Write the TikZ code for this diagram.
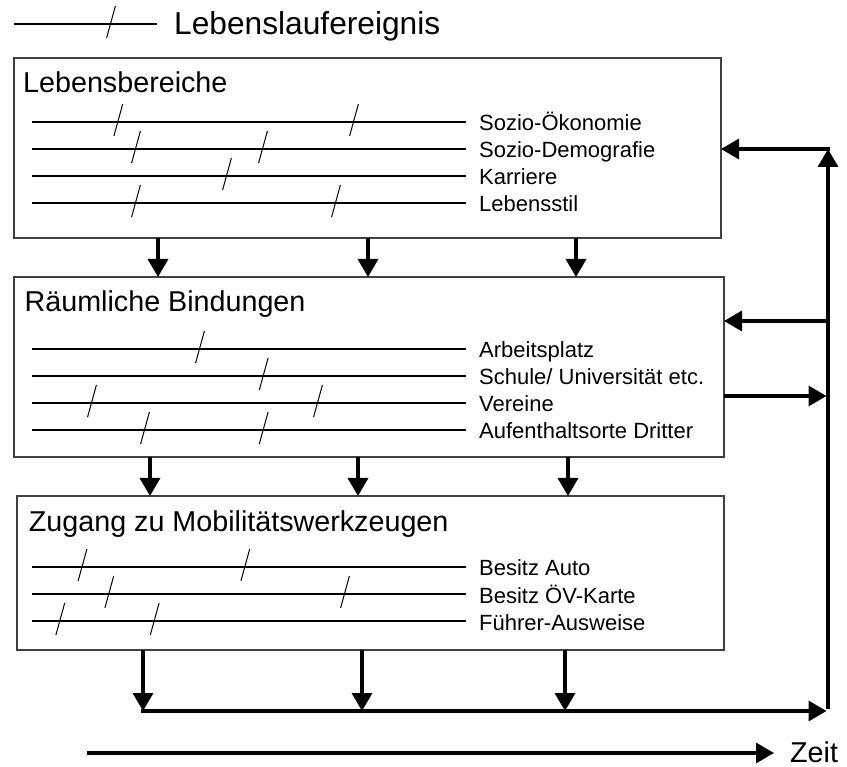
\documentclass[tikz,border=0pt]{standalone}
\usepackage{fontspec}
\setmainfont{Liberation Sans}
\usetikzlibrary{arrows.meta}
\tikzset{
  box/.style={draw=black!75, line width=1.2pt, rectangle, inner sep=0pt, outer sep=0pt, anchor=north west},
  title/.style={font=\fontsize{28.7}{34}\selectfont, inner sep=0pt, anchor=base west},
  item/.style={font=\fontsize{22}{26}\selectfont, inner sep=0pt, anchor=base west},
  evline/.style={line width=1.2pt},
  tick/.style={line width=1pt},
  arr/.style={line width=3.5pt, -{Triangle[length=18pt,width=20pt]}},
}
\newcommand\lifeline[4]{%
  \coordinate (#1s) at (32,#2);
  \coordinate (#1e) at (466,#2);
  \node[item] (#1) at (479,#2+9) {#3};
  \draw[evline] (#1s) -- (#1e);
  \foreach \t in {#4} {\draw[tick] (\t+4.4,#2-18) -- (\t-4.4,#2+14);}
}
\begin{document}
\begin{tikzpicture}[x=1pt,y=-1pt]
\useasboundingbox (0,0) rectangle (847,767);
% legend
\coordinate (lgs) at (14,24);
\coordinate (lge) at (157,24);
\draw[evline] (lgs) -- (lge);
\draw[tick] (115.4,6) -- (106.6,38);
\node[font=\fontsize{31.7}{38}\selectfont, inner sep=0pt, anchor=base west] (legend) at (174,35) {Lebenslaufereignis};
% boxes
\node[box, minimum width=707pt, minimum height=180pt] (b1) at (14,58) {};
\node[box, minimum width=710pt, minimum height=180pt] (b2) at (14,277) {};
\node[box, minimum width=707pt, minimum height=154pt] (b3) at (17,496) {};
\node[title] (t1) at (23,93) {Lebensbereiche};
\node[title] (t2) at (24.5,312) {Räumliche Bindungen};
\node[title] (t3) at (28.7,532) {Zugang zu Mobilitätswerkzeugen};
% box 1 lines
\lifeline{a1}{122}{Sozio-Ökonomie}{118.3,354}
\lifeline{a2}{149}{Sozio-Demografie}{136,263}
\lifeline{a3}{176}{Karriere}{227}
\lifeline{a4}{203}{Lebensstil}{136,336}
% box 2 lines
\lifeline{c1}{349}{Arbeitsplatz}{200}
\lifeline{c2}{376}{Schule/ Universität etc.}{263.7}
\lifeline{c3}{403}{Vereine}{92,318}
\lifeline{c4}{430}{Aufenthaltsorte Dritter}{145,263.7}
% box 3 lines
\lifeline{d1}{567}{Besitz Auto}{82.5,245.3}
\lifeline{d2}{594}{Besitz ÖV-Karte}{109.3,345}
\lifeline{d3}{621}{Führer-Ausweise}{60.3,154.7}
% arrow x positions
\coordinate (xa) at (158,0);
\coordinate (xb) at (368,0);
\coordinate (xc) at (576,0);
\coordinate (xd) at (150,0);
\coordinate (xe) at (358,0);
\coordinate (xf) at (568,0);
\coordinate (xg) at (143,0);
\coordinate (xh) at (362,0);
\coordinate (xi) at (565,0);
\draw[arr] (xa |- b1.south) -- (xa |- b2.north);
\draw[arr] (xb |- b1.south) -- (xb |- b2.north);
\draw[arr] (xc |- b1.south) -- (xc |- b2.north);
\draw[arr] (xd |- b2.south) -- (xd |- b3.north);
\draw[arr] (xe |- b2.south) -- (xe |- b3.north);
\draw[arr] (xf |- b2.south) -- (xf |- b3.north);
% bottom collector
\coordinate (hl) at (143,711);
\coordinate (vb) at (828,711);
\coordinate (vt) at (828,149);
\coordinate (vm) at (828,321);
\coordinate (vr) at (828,396);
\draw[arr] (xg |- b3.south) -- (xg |- hl);
\draw[arr] (xh |- b3.south) -- (xh |- hl);
\draw[arr] (xi |- b3.south) -- (xi |- hl);
\draw[arr] ([xshift=-1.75pt]hl) -- ([xshift=-1.5pt]vb);
\draw[arr] ([yshift=1.75pt]vb) -- (vt);
\draw[arr] ([xshift=1.75pt]vt) -- (vt -| b1.east);
\draw[arr] (vm) -- (vm -| b2.east);
\draw[arr] (b2.east |- vr) -- ([xshift=-1.5pt]vr);
% time axis
\coordinate (ts) at (87,753);
\node[title] (zeit) at (790,762) {Zeit};
\draw[arr] (ts) -- (774,753);
\end{tikzpicture}
\end{document}
